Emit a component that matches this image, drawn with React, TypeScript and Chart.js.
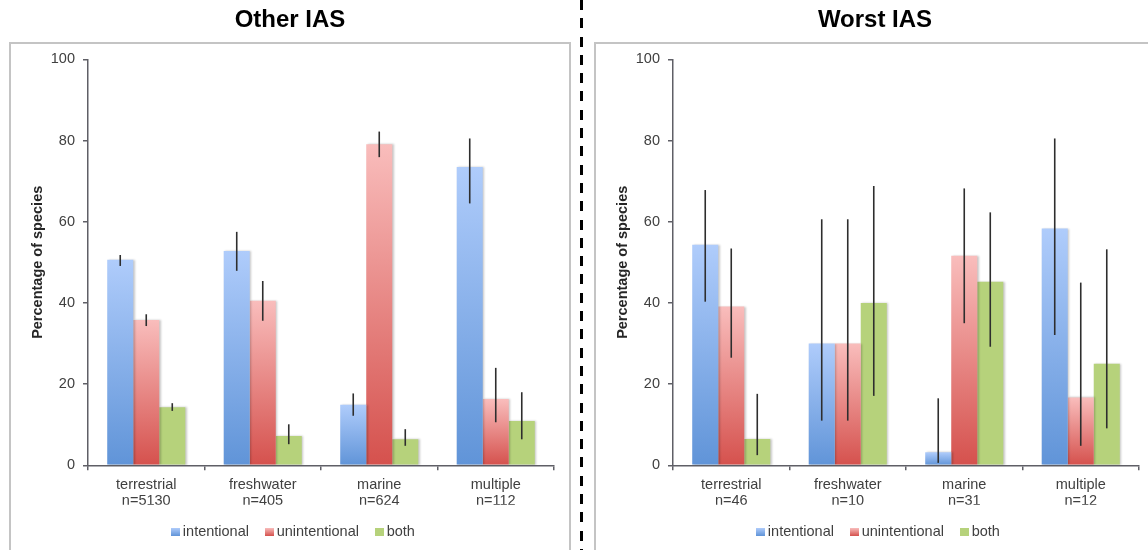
import React, { useEffect, useRef } from "react";
import { Chart, registerables } from "chart.js";

Chart.register(...registerables);

// ---------- data ----------
const categories = ["terrestrial", "freshwater", "marine", "multiple"];
const otherCounts = ["n=5130", "n=405", "n=624", "n=112"];
const worstCounts = ["n=46", "n=10", "n=31", "n=12"];
const seriesNames = ["intentional", "unintentional", "both"];
const yTicks = [0, 20, 40, 60, 80, 100];

// Other IAS
const otherIntentional = [50.6, 52.8, 14.9, 73.5];
const otherUnintentional = [35.8, 40.5, 79.1, 16.3];
const otherBoth = [14.3, 7.2, 6.4, 10.9];
const otherIntentionalErr = [[49.1, 51.8], [47.9, 57.5], [12.2, 17.7], [64.5, 80.5]];
const otherUnintentionalErr = [[34.3, 37.2], [35.6, 45.4], [75.9, 82.2], [10.6, 24.0]];
const otherBothErr = [[13.4, 15.3], [5.2, 10.1], [4.8, 8.9], [6.4, 18.0]];

// Worst IAS
const worstIntentional = [54.3, 30.0, 3.2, 58.3];
const worstUnintentional = [39.1, 30.0, 51.6, 16.7];
const worstBoth = [6.5, 40.0, 45.2, 25.0];
const worstIntentionalErr = [[40.3, 67.8], [11.0, 60.6], [0.6, 16.5], [32.1, 80.5]];
const worstUnintentionalErr = [[26.5, 53.4], [11.0, 60.6], [35.0, 68.2], [4.8, 45.0]];
const worstBothErr = [[2.5, 17.6], [17.1, 68.8], [29.2, 62.3], [9.1, 53.2]];

// ---------- styles ----------
const FONT = "'Liberation Sans', Arial, Helvetica, sans-serif";
const PALETTE = [
  { top: "#afccfb", bottom: "#6094d8" },
  { top: "#f9bdbc", bottom: "#d5514d" },
  { top: "#b6d27b", bottom: "#b6d27b" },
];
const AXIS = "#5f5f66";
const TEXT = "#404040";

function makeSwatch(p: { top: string; bottom: string }) {
  const c = document.createElement("canvas");
  c.width = 9;
  c.height = 8;
  const g = c.getContext("2d")!;
  const gr = g.createLinearGradient(0, 0, 0, 8);
  gr.addColorStop(0, p.top);
  gr.addColorStop(1, p.bottom);
  g.fillStyle = gr;
  g.fillRect(0, 0, 9, 8);
  return c;
}

const barFill = (p: { top: string; bottom: string }) => (ctx: any) => {
  const chart = ctx.chart;
  const y = chart.scales && chart.scales.y;
  if (ctx.type !== "data" || !y) return p.bottom;
  const top = y.getPixelForValue(ctx.raw);
  const base = y.getPixelForValue(0);
  if (!isFinite(top) || !isFinite(base) || Math.abs(base - top) < 0.5) return p.top;
  const g = chart.ctx.createLinearGradient(0, top, 0, base);
  g.addColorStop(0, p.top);
  g.addColorStop(1, p.bottom);
  return g;
};

// shifts title/legend so they centre on the whole panel, as in the reference
const centerPlugin = {
  id: "centerBlocks",
  afterLayout(chart: any) {
    const t = chart.titleBlock;
    if (t) {
      t.left += 13;
      t.right += 13;
    }
    const l = chart.legend;
    if (l) {
      l.left += 18;
      l.right += 18;
    }
  },
};

const errorBarPlugin = {
  id: "errorBars",
  beforeDatasetsDraw(chart: any) {
    const ctx = chart.ctx;
    ctx.save();
    ctx.shadowColor = "rgba(0,0,0,0.22)";
    ctx.shadowBlur = 2;
    ctx.shadowOffsetX = 1.5;
    ctx.shadowOffsetY = 0;
  },
  afterDatasetsDraw(chart: any) {
    const { ctx } = chart;
    ctx.restore();
    const y = chart.scales.y;
    ctx.save();
    ctx.strokeStyle = "#2e2e2e";
    ctx.lineWidth = 1.6;
    chart.data.datasets.forEach((ds: any, i: number) => {
      const meta = chart.getDatasetMeta(i);
      const errs = ds.errorRanges as number[][];
      meta.data.forEach((el: any, j: number) => {
        const r = errs[j];
        if (!r) return;
        ctx.beginPath();
        ctx.moveTo(el.x, y.getPixelForValue(r[0]));
        ctx.lineTo(el.x, y.getPixelForValue(r[1]));
        ctx.stroke();
      });
    });
    ctx.restore();
  },
};

type PanelProps = {
  left: number;
  title: string;
  counts: string[];
  series: number[][];
  errors: number[][][];
};

function ChartPanel({ left, title, counts, series, errors }: PanelProps) {
  const ref = useRef<HTMLCanvasElement | null>(null);

  useEffect(() => {
    if (!ref.current) return;
    const swatches = PALETTE.map(makeSwatch);
    const labels = categories.map((c, i) => [c, counts[i]]);
    const chart = new Chart(ref.current, {
      type: "bar",
      data: {
        labels,
        datasets: series.map((vals, i) => ({
          label: seriesNames[i],
          data: vals,
          errorRanges: errors[i],
          backgroundColor: barFill(PALETTE[i]),
          borderWidth: 0,
          categoryPercentage: 0.67,
          barPercentage: 1.0,
        })) as any,
      },
      options: {
        responsive: false,
        animation: false,
        events: [],
        layout: { padding: { left: 0, right: 26, top: 0, bottom: 0.75 } },
        plugins: {
          tooltip: { enabled: false },
          title: {
            display: true,
            text: title,
            color: "#000",
            font: { family: FONT, size: 24, weight: "bold" },
            padding: { top: 6, bottom: 24.5 },
          },
          legend: {
            position: "bottom",
            labels: {
              usePointStyle: true,
              pointStyleWidth: 0.5,
              padding: 20,
              color: TEXT,
              font: { family: FONT, size: 14.5 },
              generateLabels: () =>
                seriesNames.map((name, i) => ({
                  text: name,
                  fillStyle: PALETTE[i].bottom,
                  strokeStyle: "rgba(0,0,0,0)",
                  lineWidth: 0,
                  pointStyle: swatches[i],
                  hidden: false,
                  datasetIndex: i,
                  fontColor: TEXT,
                })) as any,
            },
          },
        },
        scales: {
          x: {
            grid: {
              display: true,
              drawOnChartArea: false,
              drawTicks: true,
              tickLength: 5,
              color: AXIS,
              lineWidth: 1.5,
              offset: true,
            },
            border: { display: true, color: AXIS, width: 1.5 },
            ticks: {
              color: TEXT,
              font: { family: FONT, size: 14.5, lineHeight: 1.15 },
              padding: 6,
              maxRotation: 0,
              autoSkip: false,
            },
            afterFit: (s: any) => {
              s.height = 39.45;
            },
          },
          y: {
            min: yTicks[0],
            max: yTicks[yTicks.length - 1],
            grid: {
              display: true,
              drawOnChartArea: false,
              drawTicks: true,
              tickLength: 5,
              color: AXIS,
              lineWidth: 1.5,
            },
            border: { display: true, color: AXIS, width: 1.5 },
            ticks: {
              stepSize: yTicks[1] - yTicks[0],
              color: TEXT,
              font: { family: FONT, size: 14.5 },
              padding: 8,
            },
            title: {
              display: true,
              text: "Percentage of species",
              color: "#262626",
              font: { family: FONT, size: 14.5, weight: "bold" },
              padding: { top: 29.3, bottom: 0 },
            },
            afterFit: (s: any) => {
              s.width = 88;
            },
          },
        },
      } as any,
      plugins: [centerPlugin, errorBarPlugin],
    });
    return () => chart.destroy();
  }, [title, counts, series, errors]);

  return (
    <canvas
      ref={ref}
      width={580}
      height={550}
      style={{ position: "absolute", left, top: 0, width: 580, height: 550, display: "block" }}
    />
  );
}

const otherSeries = [otherIntentional, otherUnintentional, otherBoth];
const otherErrors = [otherIntentionalErr, otherUnintentionalErr, otherBothErr];
const worstSeries = [worstIntentional, worstUnintentional, worstBoth];
const worstErrors = [worstIntentionalErr, worstUnintentionalErr, worstBothErr];

export default function App() {
  return (
    <div
      style={{
        position: "absolute",
        left: 0,
        top: 0,
        width: 1148,
        height: 550,
        overflow: "hidden",
        background: "#fff",
      }}
    >
      <div
        style={{
          position: "absolute",
          left: 9,
          top: 42,
          width: 562,
          height: 600,
          border: "2px solid #c4c4c4",
          boxSizing: "border-box",
        }}
      />
      <div
        style={{
          position: "absolute",
          left: 594,
          top: 42,
          width: 600,
          height: 600,
          border: "2px solid #c4c4c4",
          boxSizing: "border-box",
        }}
      />
      <div
        style={{
          position: "absolute",
          left: 580,
          top: 0,
          width: 3,
          height: 550,
          background:
            "repeating-linear-gradient(to bottom, #000 0px, #000 10px, transparent 10px, transparent 18.3px)",
        }}
      />
      <ChartPanel left={0} title="Other IAS" counts={otherCounts} series={otherSeries} errors={otherErrors} />
      <ChartPanel left={585} title="Worst IAS" counts={worstCounts} series={worstSeries} errors={worstErrors} />
    </div>
  );
}
